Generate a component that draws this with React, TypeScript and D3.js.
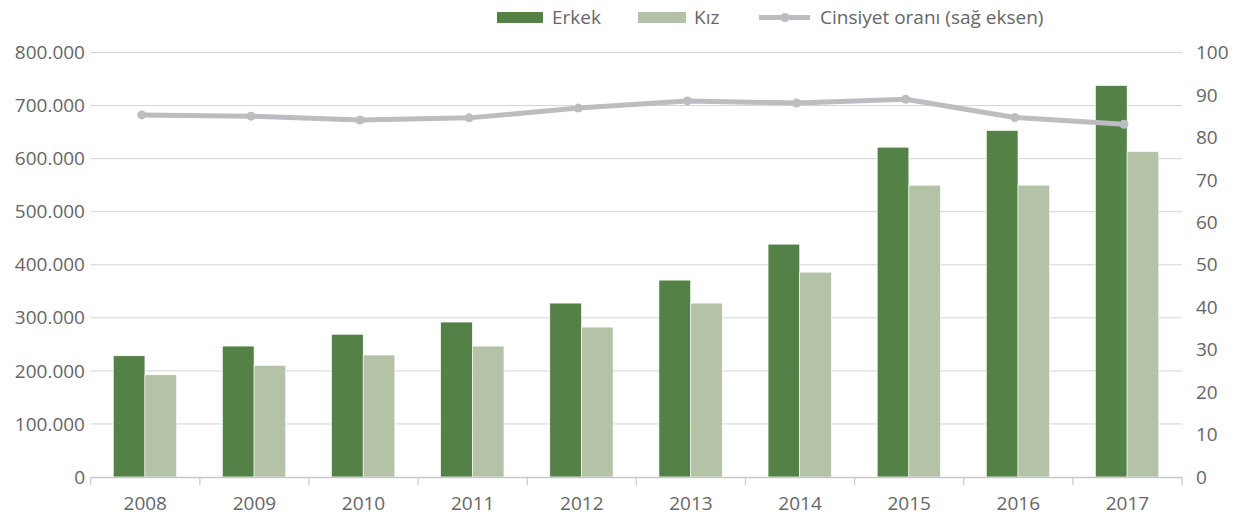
import React from "react";
import * as d3 from "d3";

const years = ["2008","2009","2010","2011","2012","2013","2014","2015","2016","2017"];
const erkek = [228400, 246700, 269000, 292000, 327700, 371000, 438800, 621500, 652900, 737600];
const kiz = [192600, 210400, 229800, 246700, 282500, 327700, 386000, 549900, 550000, 613400];
const oran = [85.3, 85.0, 84.1, 84.6, 86.9, 88.6, 88.1, 89.0, 84.7, 83.1];
const leftTicks = [0, 100000, 200000, 300000, 400000, 500000, 600000, 700000, 800000];
const rightTicks = [0, 10, 20, 30, 40, 50, 60, 70, 80, 90, 100];
const seriesNames = ["Erkek", "Kız", "Cinsiyet oranı (sağ eksen)"];

const W = 1240, H = 518;
const x0 = 90.7, x1 = 1182, yTop = 52.5, yBot = 477;
const C_ERKEK = "#548146";
const C_KIZ = "#b4c2a7";
const C_LINE = "#bdbdc1";
const C_TEXT = "#666666";
const C_GRID = "#d4d4d4";
const FONT = "'Open Sans', 'Noto Sans', sans-serif";
const FS = 19;

const fmt = (v: number) => (v === 0 ? "0" : d3.format(",")(v).replace(/,/g, "."));

export default function App() {
  const x = d3.scaleBand<string>().domain(years).range([x0, x1]).paddingInner(0).paddingOuter(0);
  const bw = x.bandwidth();
  const inner = d3.scaleBand<string>().domain(["e", "k"]).range([bw * 0.207, bw * 0.787]);
  const yL = d3.scaleLinear().domain([0, 800000]).range([yBot, yTop]);
  const yR = d3.scaleLinear().domain([0, 100]).range([yBot, yTop]);
  const lineX = (y: string) => (x(y) as number) + bw / 2 - 3.5;
  const line = d3.line<number>().x((_, i) => lineX(years[i])).y((d) => yR(d));

  return (
    <svg width={W} height={H} style={{ position: "absolute", left: 0, top: 0, fontFamily: FONT }}>
      {leftTicks.slice(1).map((t) => (
        <line key={t} x1={x0} x2={x1} y1={yL(t)} y2={yL(t)} stroke={C_GRID} strokeWidth={1} />
      ))}
      {leftTicks.map((t) => (
        <text key={t} x={85} y={yL(t)} dy="0.35em" textAnchor="end" fontSize={FS} fill={C_TEXT}>
          {fmt(t)}
        </text>
      ))}
      {rightTicks.map((t) => (
        <text key={t} x={1196} y={yR(t)} dy="0.35em" textAnchor="start" fontSize={FS} fill={C_TEXT}>
          {t}
        </text>
      ))}
      {years.map((yr, i) => (
        <g key={yr} transform={`translate(${x(yr)},0)`}>
          <rect x={inner("e")} y={yL(erkek[i])} width={inner.bandwidth()} height={yBot - yL(erkek[i])}
            fill={C_ERKEK} stroke="#ffffff" strokeWidth={0.6} />
          <rect x={inner("k")} y={yL(kiz[i])} width={inner.bandwidth()} height={yBot - yL(kiz[i])}
            fill={C_KIZ} stroke="#ffffff" strokeWidth={0.6} />
        </g>
      ))}
      <line x1={x0} x2={x1} y1={yBot + 0.5} y2={yBot + 0.5} stroke="#c8c8c8" strokeWidth={1.5} />
      {[...years.map((y) => x(y) as number), x1].map((tx, i) => (
        <line key={i} x1={tx} x2={tx} y1={yBot} y2={yBot + 8} stroke="#c8c8c8" strokeWidth={1.2} />
      ))}
      {years.map((yr) => (
        <text key={yr} x={(x(yr) as number) + bw / 2} y={510} textAnchor="middle" fontSize={FS} fill={C_TEXT}>
          {yr}
        </text>
      ))}
      <path d={line(oran) || ""} fill="none" stroke={C_LINE} strokeWidth={5} strokeLinejoin="round" strokeLinecap="round" />
      {oran.map((v, i) => (
        <circle key={i} cx={lineX(years[i])} cy={yR(v)} r={4.5} fill={C_LINE} />
      ))}
      <rect x={497} y={12} width={46} height={11} fill={C_ERKEK} />
      <text x={552} y={24} fontSize={FS} fill={C_TEXT}>{seriesNames[0]}</text>
      <rect x={638} y={12} width={48} height={11} fill={C_KIZ} />
      <text x={694} y={24} fontSize={FS} fill={C_TEXT}>{seriesNames[1]}</text>
      <line x1={759} x2={810} y1={17.5} y2={17.5} stroke={C_LINE} strokeWidth={5} />
      <circle cx={785} cy={17.5} r={4.5} fill={C_LINE} />
      <text x={820} y={24} fontSize={FS} fill={C_TEXT}>{seriesNames[2]}</text>
    </svg>
  );
}
